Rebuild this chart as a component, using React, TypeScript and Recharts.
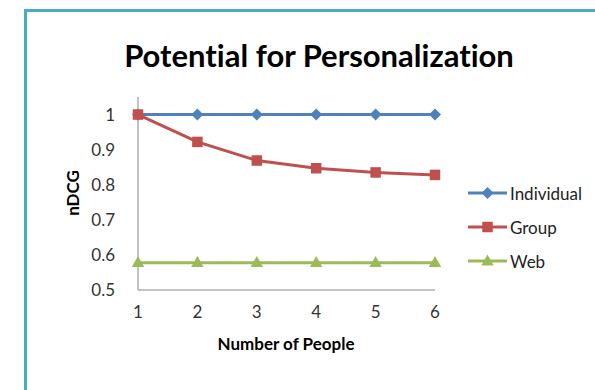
import React from 'react';
import { LineChart, Line, XAxis, YAxis } from 'recharts';

// Number of people in the group (category axis)
const people = ['1', '2', '3', '4', '5', '6'];
// nDCG per ranking approach
const individual = [1, 1, 1, 1, 1, 1];
const group = [1, 0.922, 0.869, 0.847, 0.835, 0.828];
const web = [0.578, 0.578, 0.578, 0.578, 0.578, 0.578];
const yTicks = [0.5, 0.6, 0.7, 0.8, 0.9, 1];

const seriesInfo = [
  { key: 'Individual', color: '#4F81BD', marker: 'diamond' },
  { key: 'Group', color: '#C0504D', marker: 'square' },
  { key: 'Web', color: '#9BBB59', marker: 'triangle' },
];

const data = people.map((p, i) => ({
  people: p,
  Individual: individual[i],
  Group: group[i],
  Web: web[i],
}));

const FONT = 'Lato, "Open Sans", sans-serif';

function Marker({ cx, cy, kind, color }: { cx: number; cy: number; kind: string; color: string }) {
  if (cx == null || cy == null) return null;
  if (kind === 'diamond') {
    const r = 6;
    return <polygon points={`${cx},${cy - r} ${cx + r},${cy} ${cx},${cy + r} ${cx - r},${cy}`} fill={color} />;
  }
  if (kind === 'square') {
    const s = 10.5;
    return <rect x={cx - s / 2} y={cy - s / 2} width={s} height={s} fill={color} />;
  }
  const w = 12.5;
  const h = 11;
  return <polygon points={`${cx},${cy - h * 0.6} ${cx + w / 2},${cy + h * 0.4} ${cx - w / 2},${cy + h * 0.4}`} fill={color} />;
}

const makeDot = (kind: string, color: string) => (props: any) => (
  <Marker key={`${kind}-${props.index}`} cx={props.cx} cy={props.cy} kind={kind} color={color} />
);

function YTick(props: any) {
  const { x, y, payload } = props;
  return (
    <text x={x - 15} y={y} dy={6} textAnchor="end" fontFamily={FONT} fontSize={17} fill="#333">
      {payload.value}
    </text>
  );
}

function XTick(props: any) {
  const { x, y, payload } = props;
  return (
    <text x={x} y={y + 20} textAnchor="middle" fontFamily={FONT} fontSize={17} fill="#333">
      {payload.value}
    </text>
  );
}

function LegendBox() {
  return (
    <div style={{ position: 'absolute', left: 468, top: 176, fontFamily: FONT, fontSize: 17, color: '#222' }}>
      {seriesInfo.map((s) => (
        <div key={s.key} style={{ display: 'flex', alignItems: 'center', height: 34 }}>
          <svg width={42} height={16} style={{ display: 'block' }}>
            <line x1={0} y1={8} x2={39} y2={8} stroke={s.color} strokeWidth={3} />
            <Marker cx={19.5} cy={8} kind={s.marker} color={s.color} />
          </svg>
          <span>{s.key}</span>
        </div>
      ))}
    </div>
  );
}

export default function App() {
  return (
    <div
      style={{
        position: 'fixed',
        left: 0,
        top: 0,
        width: 595,
        height: 390,
        overflow: 'hidden',
        background: '#fff',
        fontVariantLigatures: 'none',
      }}
    >
      <div
        style={{
          position: 'absolute',
          left: 24,
          top: 9,
          width: 600,
          height: 420,
          border: '3px solid #4BACC6',
          boxSizing: 'border-box',
        }}
      />
      <div
        style={{
          position: 'absolute',
          left: 0,
          width: 638,
          top: 36,
          textAlign: 'center',
          fontFamily: FONT,
          fontWeight: 700,
          fontSize: 31,
          color: '#000',
          lineHeight: '38px',
        }}
      >
        Potential for Personalization
      </div>
      <div
        style={{
          position: 'absolute',
          left: 72,
          top: 193,
          transform: 'translate(-50%, -50%) rotate(-90deg)',
          fontFamily: FONT,
          fontWeight: 700,
          fontSize: 17,
          color: '#000',
          whiteSpace: 'nowrap',
        }}
      >
        nDCG
      </div>
      <div
        style={{
          position: 'absolute',
          left: 286,
          top: 343,
          transform: 'translate(-50%, -50%)',
          fontFamily: FONT,
          fontWeight: 700,
          fontSize: 17,
          color: '#000',
          whiteSpace: 'nowrap',
        }}
      >
        Number of People
      </div>
      <LegendBox />
      <div style={{ position: 'absolute', left: 0, top: 0 }}>
        <LineChart width={595} height={390} data={data} margin={{ top: 97, right: 160, bottom: 70, left: 0 }}>
          <XAxis
            dataKey="people"
            tickLine={false}
            axisLine={{ stroke: '#868686', strokeWidth: 1 }}
            tick={<XTick />}
            height={30}
            interval={0}
          />
          <YAxis
            domain={[0.5, 1.05]}
            ticks={yTicks}
            tickLine={false}
            axisLine={{ stroke: '#868686', strokeWidth: 1 }}
            tick={<YTick />}
            width={138}
            interval={0}
            allowDataOverflow
          />
          {seriesInfo.map((s) => (
            <Line
              key={s.key}
              type="linear"
              dataKey={s.key}
              stroke={s.color}
              strokeWidth={3}
              dot={makeDot(s.marker, s.color)}
              activeDot={false}
              isAnimationActive={false}
            />
          ))}
        </LineChart>
      </div>
    </div>
  );
}
